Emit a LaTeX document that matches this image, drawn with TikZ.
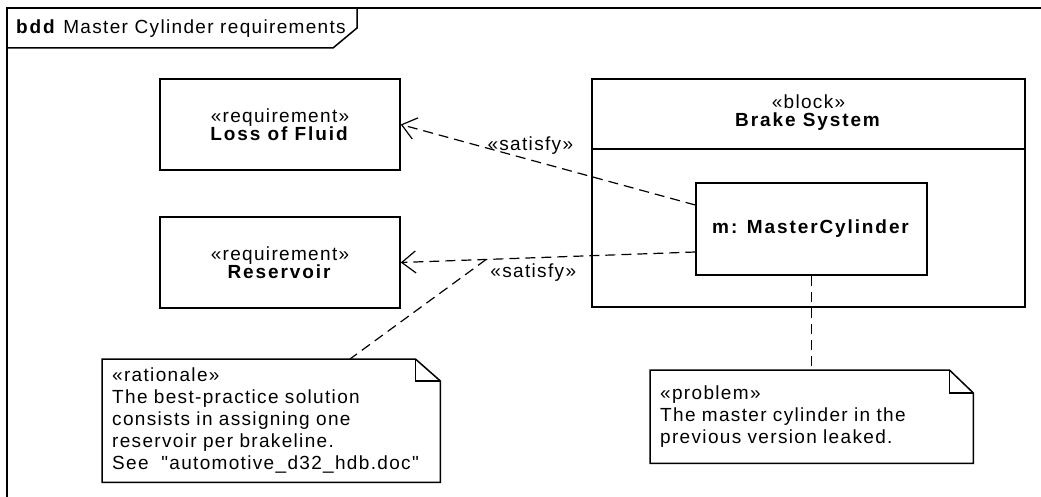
\documentclass[tikz,border=0pt]{standalone}
\usepackage{fontspec}
\setmainfont{Liberation Sans}[LetterSpace=7,Ligatures=TeXOff,BoldFeatures={LetterSpace=10}]
\usetikzlibrary{arrows.meta,positioning}
\begin{document}
\begin{tikzpicture}[x=1pt,y=-1pt,
  box/.style={draw,line width=1.5pt,minimum width=240pt,minimum height=91pt,align=center,inner sep=0pt},
  link/.style={line width=1.2pt,dash pattern=on 10pt off 6pt},
  satisfy/.style={link,-{Straight Barb[length=14pt,width=22pt,line width=1.2pt]}},
  note/.style={anchor=north west,text width=#1,align=left,inner xsep=10pt,inner ysep=2pt},
  outline/.style={line width=1.5pt,line join=miter}]
\useasboundingbox (0,0) rectangle (1041,497);
\fontsize{19}{22}\selectfont
% frame
\draw[outline] (7,497) -- (7,8) -- (1041,8);
\draw[outline] (7,48) -- (333,48) -- (357,28) -- (357,8);
\node[anchor=west,inner sep=0pt] (title) at (16,29) {\textbf{bdd} Master Cylinder requirements};
% requirements
\node[box] (loss) at (280,124.5) {\guillemotleft requirement\guillemotright\\[-4pt]\textbf{Loss of Fluid}};
\node[box] (res) at (280,262.5) {\guillemotleft requirement\guillemotright\\[-4pt]\textbf{Reservoir}};
% block
\node[box,minimum width=433pt,minimum height=228pt] (bs) at (808.5,193) {};
\node[align=center,inner sep=0pt] (bshead) at (808.5,113) {\guillemotleft block\guillemotright\\[-4pt]\textbf{Brake System}};
\draw[line width=1.5pt] (bs.west |- 0,149) -- (bs.east |- 0,149);
\node[box,minimum width=231pt,minimum height=92pt] (mc) at (811.5,229) {\textbf{m: MasterCylinder}};
% notes
\node[note=318pt,minimum height=123pt] (rat) at (102,359) {\guillemotleft rationale\guillemotright\\The best-practice solution\\consists in assigning one\\reservoir per brakeline.\\See \ "automotive\_d32\_hdb.doc"};
\draw[outline] (rat.south west) -- (rat.north west) -- ([xshift=-25pt]rat.north east) -- ([yshift=-22pt]rat.north east) -- (rat.south east) -- cycle;
\draw[outline] ([xshift=-25pt]rat.north east) |- ([yshift=-22pt]rat.north east);
\node[note=303pt,minimum height=93pt] (prob) at (650,370) {\guillemotleft problem\guillemotright\\The master cylinder in the\\previous version leaked.};
\draw[outline] (prob.south west) -- (prob.north west) -- ([xshift=-24pt]prob.north east) -- ([yshift=-23pt]prob.north east) -- (prob.south east) -- cycle;
\draw[outline] ([xshift=-24pt]prob.north east) |- ([yshift=-23pt]prob.north east);
% dependencies
\draw[satisfy] ([yshift=24pt]mc.west) -- node[pos=0.56,above=5pt,inner sep=0pt] (sat1) {\guillemotleft satisfy\guillemotright} (loss.east);
\draw[satisfy] ([yshift=-23pt]mc.west) -- coordinate[pos=0.71] (s2) node[pos=0.55,below=5pt,inner sep=0pt] (sat2) {\guillemotleft satisfy\guillemotright} (res.east);
\draw[link] (s2) -- ([xshift=248pt]rat.north west);
\draw[link] (mc.south) -- (mc.south |- prob.north);
\end{tikzpicture}
\end{document}
